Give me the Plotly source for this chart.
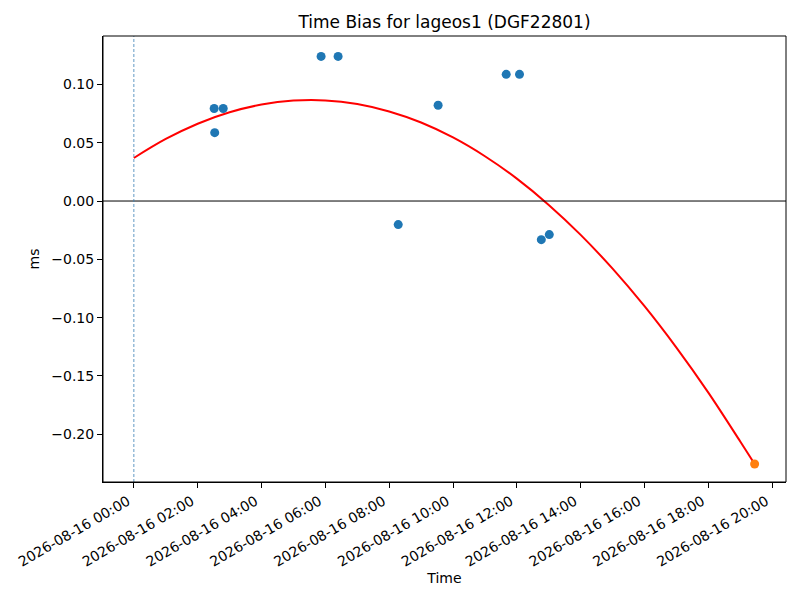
import plotly.graph_objects as go

# observed time bias per pass
pass_times = ["2026-08-16 02:31", "2026-08-16 02:48", "2026-08-16 02:32",
              "2026-08-16 05:52", "2026-08-16 06:24", "2026-08-16 08:17",
              "2026-08-16 09:32", "2026-08-16 11:40", "2026-08-16 12:05",
              "2026-08-16 12:46", "2026-08-16 13:01"]
pass_bias = [0.0793, 0.0793, 0.0586, 0.1240, 0.1240, -0.0202,
             0.0821, 0.1086, 0.1086, -0.0331, -0.0288]

# predicted point
pred_time = ["2026-08-16 19:27"]
pred_bias = [-0.2255]

# fitted curve
fit_times = ["2026-08-16 %02d:00" % h for h in range(20)] + ["2026-08-16 19:27"]
fit_bias = [0.0369, 0.0532, 0.0663, 0.0761, 0.0827, 0.0861, 0.0863, 0.0832,
            0.0768, 0.0673, 0.0545, 0.0384, 0.0192, -0.0033, -0.0290, -0.0580,
            -0.0902, -0.1257, -0.1643, -0.2062, -0.2255]

tick_times = ["2026-08-16 %02d:00" % h for h in range(0, 21, 2)]
y_ticks = [-0.20, -0.15, -0.10, -0.05, 0.00, 0.05, 0.10]

font = "DejaVu Sans"

fig = go.Figure()
fig.add_trace(go.Scatter(x=fit_times, y=fit_bias, mode="lines", line_shape="spline",
                         line=dict(color="red", width=2), showlegend=False))
fig.add_trace(go.Scatter(x=pass_times, y=pass_bias, mode="markers",
                         marker=dict(color="#1f77b4", size=9), showlegend=False))
fig.add_trace(go.Scatter(x=pred_time, y=pred_bias, mode="markers",
                         marker=dict(color="#ff7f0e", size=9), showlegend=False))

fig.add_hline(y=0, line=dict(color="black", width=1))
fig.add_vline(x="2026-08-16 00:00", line=dict(color="#3a7fb5", width=0.8, dash="3px,2px"))
# axes frame
fig.add_shape(type="rect", xref="paper", yref="paper", x0=0, x1=1, y0=0, y1=1,
              line=dict(color="black", width=1))

# page body adds ~7px offset, margins compensate
fig.update_layout(
    width=800, height=600,
    margin=dict(l=95, r=22, t=28, b=126),
    plot_bgcolor="white", paper_bgcolor="white",
    font=dict(family=font, size=14, color="black"),
    title=dict(text="Time Bias for lageos1 (DGF22801)", xref="paper", x=0.5, xanchor="center",
               y=1 - 14 / 600, yanchor="middle", font=dict(size=17)),
)
fig.update_xaxes(
    range=["2026-08-15 23:02", "2026-08-16 20:26"],
    tickvals=tick_times, tickformat="%Y-%m-%d %H:%M", tickangle=-30,
    ticklabelshift=-6,
    showgrid=False, zeroline=False, automargin=False,
    showline=True, linecolor="black", linewidth=1,
    ticks="outside", ticklen=5, tickcolor="black", tickfont=dict(size=14),
    title=dict(text="Time", standoff=4, font=dict(size=14)),
)
fig.update_yaxes(
    range=[-0.2409, 0.1415],
    tickvals=y_ticks, tickformat=".2f",
    showgrid=False, zeroline=False, automargin=False,
    showline=True, linecolor="black", linewidth=1,
    ticks="outside", ticklen=5, tickcolor="black", tickfont=dict(size=14),
    title=dict(text="ms", standoff=8, font=dict(size=14)),
)

fig.write_html("out.html")
